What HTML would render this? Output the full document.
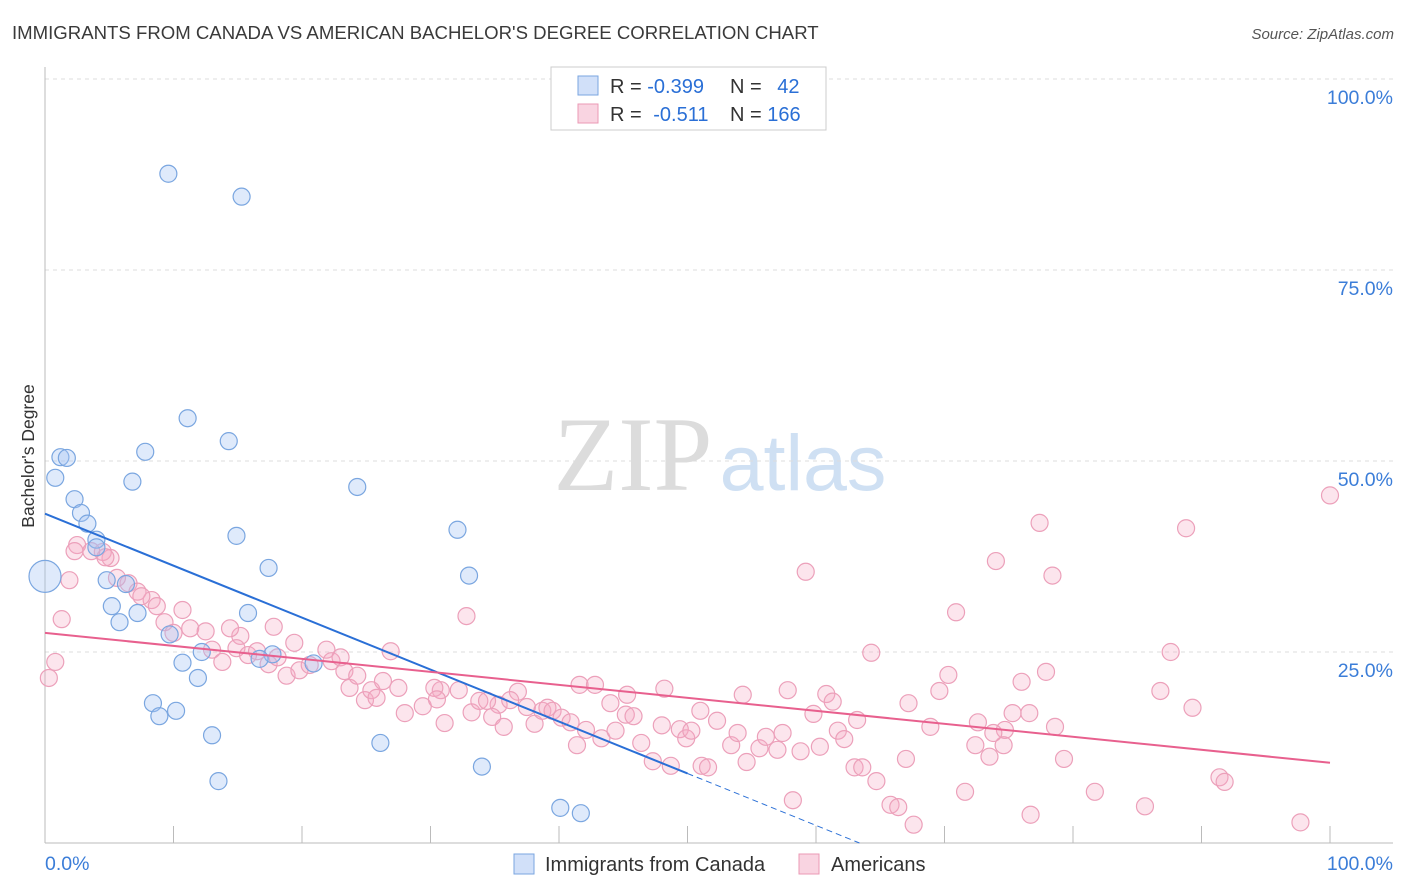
<!DOCTYPE html>
<html><head><meta charset="utf-8">
<style>
body{margin:0;background:#fff;font-family:"Liberation Sans",sans-serif;}
svg{display:block}
</style></head>
<body>
<svg id="chart" width="1406" height="892" viewBox="0 0 1406 892" xmlns="http://www.w3.org/2000/svg">
<text x="12" y="39" font-size="18.6" fill="#3a3a3a">IMMIGRANTS FROM CANADA VS AMERICAN BACHELOR'S DEGREE CORRELATION CHART</text>
<text x="1394" y="39" font-size="15" fill="#555" text-anchor="end" font-style="italic">Source: ZipAtlas.com</text>
<g>
<text x="633" y="490" font-size="106" fill="#dcdcdc" text-anchor="middle" font-family="Liberation Serif,serif">ZIP</text>
<text x="803" y="490" font-size="79" fill="#cfe0f3" text-anchor="middle">atlas</text>
</g>
<g id="grid"></g>
<g id="axes"></g>
<g id="marks"></g>
<text transform="translate(34,456) rotate(-90)" font-size="17.5" fill="#333" text-anchor="middle">Bachelor's Degree</text>
<g>
<rect x="551" y="67" width="275" height="63" fill="#fff" stroke="#ccc"/>
<rect x="578" y="76" width="20" height="19" fill="rgba(164,194,244,0.5)" stroke="#7aa6e0"/>
<rect x="578" y="104" width="20" height="19" fill="rgba(244,170,195,0.5)" stroke="#eb9ab5"/>
<text x="610" y="93" font-size="20" fill="#333">R = <tspan fill="#2a6fd6">-0.399</tspan></text>
<text x="730" y="93" font-size="20" fill="#333">N = <tspan fill="#2a6fd6" dx="10">42</tspan></text>
<text x="610" y="121" font-size="20" fill="#333">R = <tspan fill="#2a6fd6" dx="6">-0.511</tspan></text>
<text x="730" y="121" font-size="20" fill="#333">N = <tspan fill="#2a6fd6">166</tspan></text>
</g>
<g>
<rect x="514" y="854" width="20" height="20" fill="rgba(164,194,244,0.5)" stroke="#7aa6e0"/>
<text x="545" y="871" font-size="20" fill="#333">Immigrants from Canada</text>
<rect x="799" y="854" width="20" height="20" fill="rgba(244,170,195,0.5)" stroke="#eb9ab5"/>
<text x="831" y="871" font-size="20" fill="#333">Americans</text>
</g>
</svg>
<script>
const blueX=[9.6,15.3,11.1,14.3,7.8,1.2,1.7,0.8,6.8,24.3,2.3,2.8,3.3,32.1,14.9,4.0,4.0,17.4,33.0,4.8,6.3,5.2,15.8,7.2,5.8,9.7,12.2,17.7,16.7,20.9,10.7,11.9,8.4,10.2,8.9,13.0,26.1,34.0,13.5,40.1,41.7,0.0];
const blueY=[87.6,84.6,55.6,52.6,51.2,50.5,50.4,47.8,47.3,46.6,45.0,43.2,41.8,41.0,40.2,39.7,38.7,36.0,35.0,34.4,33.9,31.0,30.1,30.1,28.9,27.3,25.0,24.7,24.1,23.5,23.6,21.6,18.3,17.3,16.6,14.1,13.1,10.0,8.1,4.6,3.9,34.9];
const pinkX=[100.0,77.4,88.8,74.0,78.4,59.2,70.9,32.8,87.6,64.3,77.9,70.3,86.8,76.0,69.6,67.2,89.3,60.8,57.8,54.3,48.2,41.6,42.8,45.3,36.8,35.3,30.8,30.3,32.2,26.9,19.4,17.8,15.2,10.7,8.3,6.5,5.6,5.1,4.5,4.7,2.5,2.3,3.6,1.9,1.3,0.8,0.3,7.2,7.5,8.7,9.3,10.0,11.3,12.5,13.0,13.8,14.4,14.9,15.8,16.5,17.4,18.1,18.8,19.8,20.6,21.9,22.3,23.0,23.3,23.7,24.3,24.9,25.4,25.8,26.3,27.5,28.0,29.4,30.5,31.1,33.2,33.8,34.4,34.8,35.7,36.2,37.5,38.1,38.7,39.1,39.5,40.2,40.9,41.4,42.1,43.3,44.0,44.4,45.2,45.8,46.4,47.3,48.0,48.7,49.4,49.9,50.3,51.1,51.6,51.0,52.3,53.4,53.9,54.6,55.6,56.1,57.0,57.4,58.8,59.8,60.3,61.3,61.7,62.2,63.0,63.2,63.6,64.7,65.8,66.4,67.0,67.6,68.9,71.6,72.4,72.6,73.5,74.7,75.3,76.6,78.6,79.3,76.7,81.7,85.6,91.4,91.8,97.7,58.2,74.6,73.8];
const pinkY=[45.5,41.9,41.2,36.9,35.0,35.5,30.2,29.7,25.0,24.9,22.4,22.0,19.9,21.1,19.9,18.3,17.7,19.5,20.0,19.4,20.2,20.7,20.7,19.4,19.8,18.1,20.0,20.3,20.0,25.1,26.2,28.3,27.1,30.5,31.8,34.0,34.7,37.3,38.1,37.4,39.0,38.2,38.2,34.4,29.3,23.7,21.6,32.9,32.3,31.0,28.9,27.5,28.1,27.7,25.3,23.7,28.1,25.5,24.6,25.1,23.4,24.3,21.9,22.6,23.3,25.3,23.8,24.3,22.5,20.3,21.9,18.7,20.0,19.0,21.2,20.3,17.0,17.9,18.8,15.7,17.1,18.6,18.6,16.5,15.2,18.7,17.8,15.6,17.3,17.7,17.3,16.4,15.8,12.8,14.8,13.7,18.3,14.7,16.8,16.6,13.1,10.7,15.4,10.1,14.9,13.7,14.7,10.1,9.9,17.3,16.0,12.8,14.4,10.6,12.4,13.9,12.2,14.4,12.0,16.9,12.6,18.5,14.7,13.6,9.9,16.1,9.9,8.1,5.0,4.7,11.0,2.4,15.2,6.7,12.8,15.8,11.3,14.8,17.0,17.0,15.2,11.0,3.7,6.7,4.8,8.6,8.0,2.7,5.6,12.8,14.4];
const blueTrend=[43.1,-0.68]; // intercept, slope
const blueSolidEnd=[50];
const pinkTrend=[27.5,-0.17];
const yTicks=[25,50,75,100];
const yTickLabels=["25.0%","50.0%","75.0%","100.0%"];
const xTicks=[0,10,20,30,40,50,60,70,80,90,100];

const NS="http://www.w3.org/2000/svg";
const X0=45,X1=1330,Y0=843,YS=7.64;
const sx=v=>X0+(X1-X0)*v/100;
const sy=v=>Y0-v*YS;
function mk(tag,attrs,parent){const e=document.createElementNS(NS,tag);for(const k in attrs)e.setAttribute(k,attrs[k]);document.getElementById(parent).appendChild(e);return e;}

yTicks.forEach((t,i)=>{
  const g=mk('line',{x1:X0,x2:1393,y1:sy(t),y2:sy(t),stroke:'#ddd','stroke-dasharray':'4,4'},'grid');
  
  
  const l=mk('text',{x:1393,y:sy(t)+25,'font-size':19.5,fill:'#3b7dd8','text-anchor':'end'},'grid');
  l.textContent=yTickLabels[i];
  
  
});
const ax=mk('line',{x1:X0,x2:1393,y1:Y0,y2:Y0,stroke:'#bbb'},'axes');


const ay=mk('line',{x1:X0,x2:X0,y1:67,y2:Y0,stroke:'#bbb'},'axes');


xTicks.forEach(t=>{
  const k=mk('line',{x1:sx(t),x2:sx(t),y1:826,y2:Y0,stroke:'#bbb'},'axes');
  
  
});
const xl0=mk('text',{x:45,y:870,'font-size':19.5,fill:'#3b7dd8'},'axes');xl0.textContent='0.0%';


const xl1=mk('text',{x:1393,y:870,'font-size':19.5,fill:'#3b7dd8','text-anchor':'end'},'axes');xl1.textContent='100.0%';



pinkX.forEach((x,i)=>{
  const c=mk('circle',{cx:sx(x),cy:sy(pinkY[i]),r:8.5,fill:'rgba(244,170,195,0.3)',stroke:'#eca0ba','stroke-width':1.2},'marks');
  
  
});
blueX.forEach((x,i)=>{
  const big=i===blueX.length-1;
  const c=mk('circle',{cx:sx(x),cy:sy(blueY[i]),r:big?16:8.5,fill:'rgba(164,194,244,0.35)',stroke:'#7aa6e0','stroke-width':1.2},'marks');
  
  
});
const bz=-blueTrend[0]/blueTrend[1];
const bl=mk('line',{x1:sx(0),y1:sy(blueTrend[0]),x2:sx(blueSolidEnd[0]),y2:sy(blueTrend[0]+blueTrend[1]*blueSolidEnd[0]),stroke:'#2a6fd6','stroke-width':2},'marks');


const bd=mk('line',{x1:sx(blueSolidEnd[0]),y1:sy(blueTrend[0]+blueTrend[1]*blueSolidEnd[0]),x2:sx(bz),y2:sy(0),stroke:'#2a6fd6','stroke-width':1,'stroke-dasharray':'6,4'},'marks');


const pl=mk('line',{x1:sx(0),y1:sy(pinkTrend[0]),x2:sx(100),y2:sy(pinkTrend[0]+pinkTrend[1]*100),stroke:'#e8608e','stroke-width':2},'marks');


</script>
</body></html>
